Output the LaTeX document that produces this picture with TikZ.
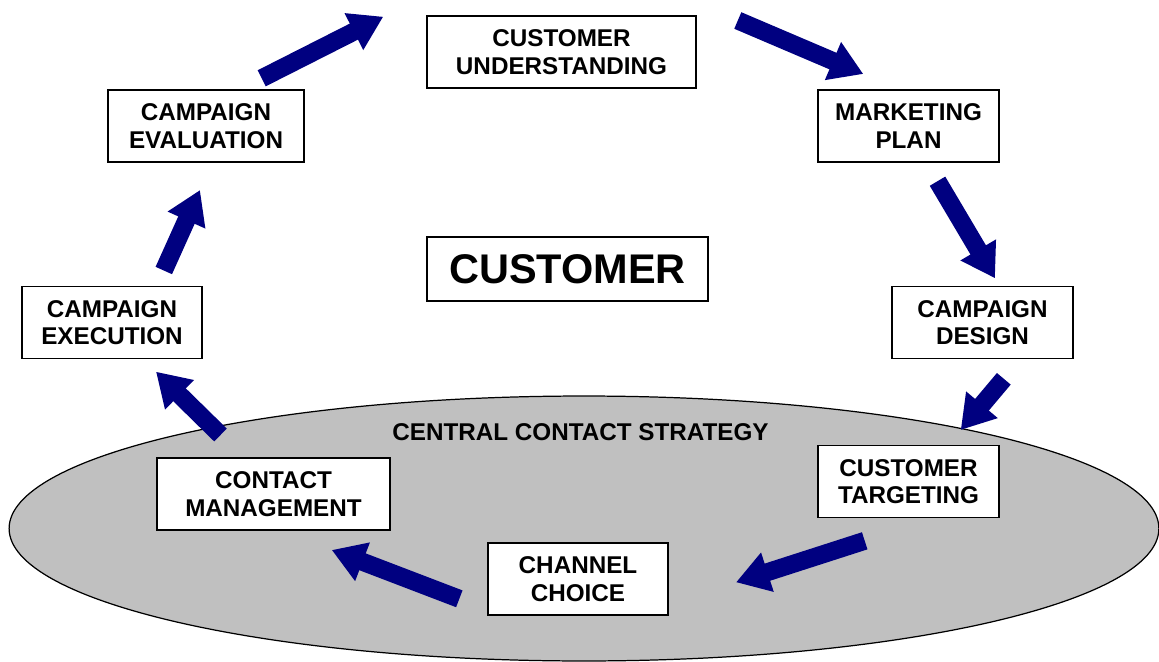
\documentclass[tikz,border=0pt]{standalone}
\usepackage{fontspec}
\setmainfont{Liberation Sans}
\usetikzlibrary{arrows.meta}
\definecolor{arrownavy}{RGB}{0,0,128}
\definecolor{ovalgrey}{RGB}{192,192,192}

\tikzset{
  stage/.style={draw, line width=1pt, fill=white, align=center, inner sep=2pt,
    minimum height=1.44cm, font=\fontsize{13.8}{15.6}\selectfont\bfseries},
  flow/.style={draw=arrownavy, line width=0.36cm,
    -{Triangle[length=0.66cm,width=0.78cm]}}
}

\begin{document}
\begin{tikzpicture}[x=0.02cm,y=-0.02cm]
\useasboundingbox (0,0) rectangle (1159,662);

\draw[line width=0.7pt, fill=ovalgrey] (584,528.5) ellipse [x radius=11.5cm, y radius=2.65cm];
\node[anchor=base, font=\fontsize{13.8}{15.6}\selectfont\bfseries] (central) at (580.5,440) {CENTRAL CONTACT STRATEGY};

\node[stage, minimum width=5.38cm] (understanding) at (561.5,52) {CUSTOMER\\UNDERSTANDING};
\node[stage, minimum width=3.62cm] (marketing) at (908.5,126) {MARKETING\\PLAN};
\node[stage, minimum width=3.62cm] (design) at (982.5,322.5) {CAMPAIGN\\DESIGN};
\node[stage, minimum width=3.62cm] (targeting) at (908.5,481.5) {CUSTOMER\\TARGETING};
\node[stage, minimum width=3.6cm] (channel) at (578,579) {CHANNEL\\CHOICE};
\node[stage, minimum width=4.66cm] (contact) at (273.5,494) {CONTACT\\MANAGEMENT};
\node[stage, minimum width=3.6cm] (execution) at (112,322.5) {CAMPAIGN\\EXECUTION};
\node[stage, minimum width=3.92cm] (evaluation) at (206,126) {CAMPAIGN\\EVALUATION};
\node[draw, line width=1pt, fill=white, minimum width=5.62cm, minimum height=1.28cm,
  font=\fontsize{23.6}{26}\selectfont\bfseries] (customer) at (567.5,269) {CUSTOMER};

% arrow tails (t) and tips (h)
\coordinate (t1) at (261.7,78.3);  \coordinate (h1) at (383.3,16.7);
\coordinate (t2) at (737.8,20.5);  \coordinate (h2) at (863.3,74);
\coordinate (t3) at (937.5,181.2); \coordinate (h3) at (995,278.3);
\coordinate (t4) at (1003.8,378.8); \coordinate (h4) at (960.7,430);
\coordinate (t5) at (864.7,540.8); \coordinate (h5) at (736,582.3);
\coordinate (t6) at (459.3,598.8); \coordinate (h6) at (331.7,550);
\coordinate (t7) at (220.5,435);   \coordinate (h7) at (156,371.7);
\coordinate (t8) at (163.8,270.5); \coordinate (h8) at (200,190);

\foreach \i in {1,...,8}
  \draw[flow] (t\i) -- (h\i);
\end{tikzpicture}
\end{document}
